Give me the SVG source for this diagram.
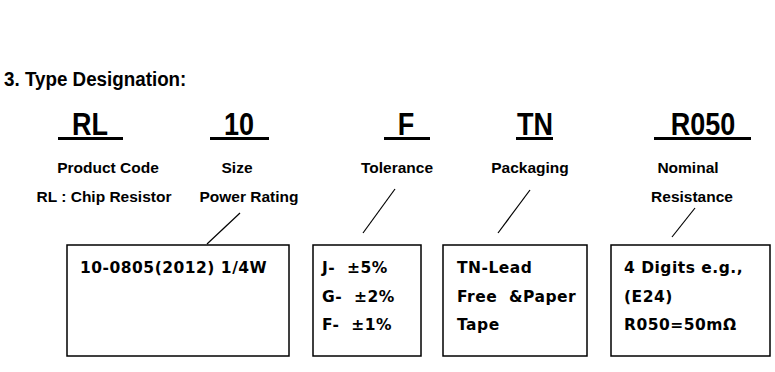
<svg xmlns="http://www.w3.org/2000/svg" width="775" height="372" viewBox="0 0 775 372">
<style>
.t{font-family:"Liberation Sans",Arial,sans-serif;font-weight:bold;fill:#000}
.title{font-size:18.8px}
.code{font-size:27px;text-anchor:middle}
.lbl{font-size:15.5px;text-anchor:middle}
.bx{font-family:"DejaVu Sans",Verdana,sans-serif;font-weight:bold;font-size:15.5px;letter-spacing:0.5px;fill:#000}
.ul{stroke:#000;stroke-width:3}
.box{fill:#fff;stroke:#000;stroke-width:1.5}
.ln{stroke:#000;stroke-width:1.2;fill:none}
</style>
<rect width="775" height="372" fill="#fff"/>
<text class="t title" x="4" y="86" transform="translate(0,86) scale(1,1.05) translate(0,-86)">3. Type Designation:</text>
<g id="rl">
<text class="t code" transform="translate(90,135) scale(1,1.13)">RL</text>
<line class="ul" x1="58" y1="138.5" x2="123" y2="138.5"/>
<text class="t lbl" x="108" y="173">Product Code</text>
<text class="t lbl" x="104" y="202">RL : Chip Resistor</text>
</g>
<g id="size">
<text class="t code" transform="translate(239,135) scale(1,1.13)">10</text>
<line class="ul" x1="210" y1="138.5" x2="269" y2="138.5"/>
<text class="t lbl" x="237" y="173">Size</text>
<text class="t lbl" x="249" y="202">Power Rating</text>
</g>
<g id="tol">
<text class="t code" transform="translate(406,135) scale(1,1.13)">F</text>
<line class="ul" x1="384" y1="138.5" x2="430" y2="138.5"/>
<text class="t lbl" x="397" y="173">Tolerance</text>
</g>
<g id="pkg">
<text class="t code" transform="translate(535,135) scale(1,1.13)">TN</text>
<line class="ul" x1="516" y1="138.5" x2="553" y2="138.5"/>
<text class="t lbl" x="530" y="173">Packaging</text>
</g>
<g id="res">
<text class="t code" transform="translate(703,135) scale(1,1.13)">R050</text>
<line class="ul" x1="654" y1="138.5" x2="751" y2="138.5"/>
<text class="t lbl" x="688" y="173">Nominal</text>
<text class="t lbl" x="692" y="202">Resistance</text>
</g>
<g id="box-size">
<rect class="box" x="67" y="245" width="222" height="111"/>
<text class="bx" x="80" y="273">10-0805(2012) 1/4W</text>
</g>
<g id="box-tol">
<rect class="box" x="313" y="245" width="108" height="111"/>
<text class="bx" x="322" y="273" xml:space="preserve">J-  ±5%</text>
<text class="bx" x="322" y="302" xml:space="preserve">G-  ±2%</text>
<text class="bx" x="322" y="330" xml:space="preserve">F-  ±1%</text>
</g>
<g id="box-pkg">
<rect class="box" x="443" y="245" width="144" height="111"/>
<text class="bx" x="457" y="273">TN-Lead</text>
<text class="bx" x="457" y="302" xml:space="preserve">Free  &amp;Paper</text>
<text class="bx" x="457" y="330">Tape</text>
</g>
<g id="box-res">
<rect class="box" x="611" y="245" width="159" height="111"/>
<text class="bx" x="624" y="273">4 Digits e.g.,</text>
<text class="bx" x="624" y="302">(E24)</text>
<text class="bx" x="624" y="330">R050=50mΩ</text>
</g>
<g id="connectors">
<line class="ln" x1="240" y1="213" x2="207" y2="244"/>
<line class="ln" x1="395" y1="189" x2="363" y2="233"/>
<line class="ln" x1="530" y1="190" x2="498" y2="233"/>
<line class="ln" x1="695" y1="208" x2="672" y2="237"/>
</g>
</svg>
